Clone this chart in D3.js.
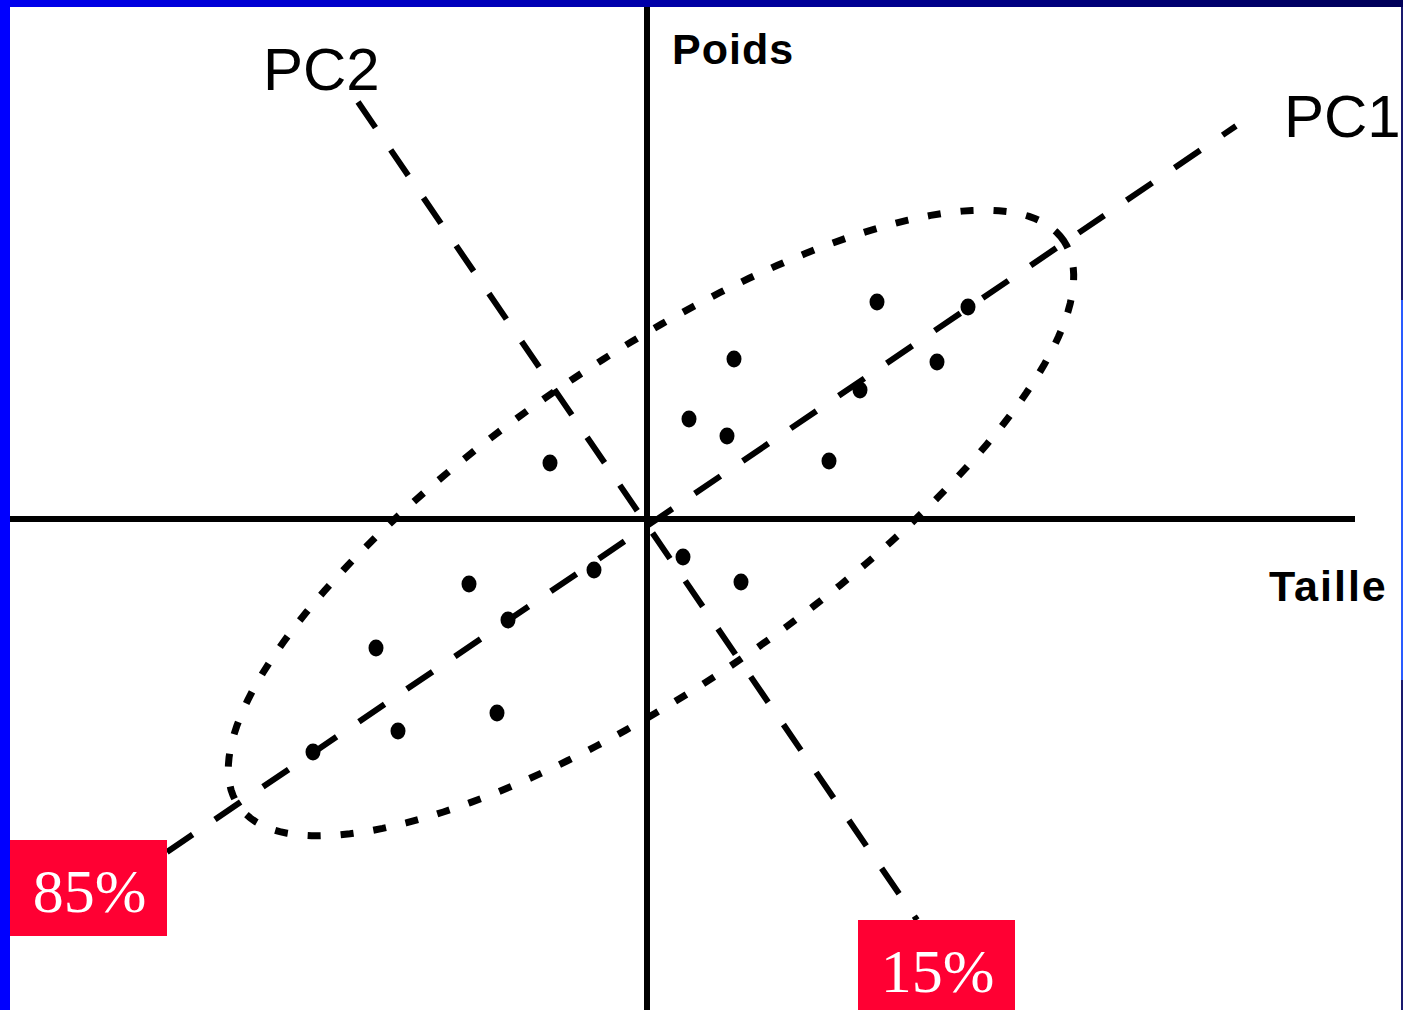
<!DOCTYPE html>
<meta charset="utf-8">
<style>
body { margin: 0; background: #fff; }
svg { display: block; }
.axis line { stroke: #000; stroke-width: 6px; }
.pc { fill: none; stroke: #000; stroke-width: 6px; stroke-dasharray: 31 27; }
.ellipse { fill: none; stroke: #000; stroke-width: 7px; stroke-dasharray: 13 20; }
.var-label { font-family: "Liberation Serif", "Times New Roman", serif; fill: #fff; font-size: 62px; text-anchor: middle; }
.pc-label { font-family: "Liberation Sans", Arial, sans-serif; font-size: 60px; fill: #000; }
.ax-label { font-family: "Liberation Sans", Arial, sans-serif; font-weight: bold; font-size: 43px; fill: #000; letter-spacing: 1px; }
</style>
<svg width="1403" height="1010"></svg>
<script src="https://d3js.org/d3.v7.min.js"></script>
<script>

// observations (Taille, Poids), centred
var pointsX = [2.30, 3.21, 0.87, 2.90, 2.13, 0.42, 0.80, 1.82, -0.97, 0.36, 0.94, -0.53, -1.78, -1.39, -2.71, -1.50, -2.49, -3.34];
var pointsY = [2.17, 2.12, 1.60, 1.57, 1.29, 1.00, 0.83, 0.58, 0.56, -0.38, -0.63, -0.51, -0.65, -1.01, -1.29, -1.94, -2.12, -2.33];

var axisNames = ["Taille", "Poids"];
var pcNames = ["PC1", "PC2"];
var pcVariance = ["85%", "15%"];

// principal axis segments [x1, y1, x2, y2]
var pc1Seg = [-4.80, -3.33, 5.89, 3.93];
var pc2Seg = [-2.89, 4.17, 2.70, -4.01];

// confidence ellipse: centre x, centre y, semi-major, semi-minor, angle (deg)
var ellipseParams = [0.04, -0.04, 5.0, 1.63, 34.4];

var svg = d3.select("svg");

var x = d3.scaleLinear().domain([-6.37, 7.08]).range([10, 1355]);
var y = d3.scaleLinear().domain([5.12, -4.91]).range([7, 1010]);

// frame
var grad = svg.append("defs").append("linearGradient").attr("id", "topbar");
grad.append("stop").attr("offset", "0").attr("stop-color", "#0000ee");
grad.append("stop").attr("offset", "1").attr("stop-color", "#000058");
svg.append("rect").attr("x", 0).attr("y", 0).attr("width", 1403).attr("height", 7).attr("fill", "url(#topbar)");
svg.append("rect").attr("x", 0).attr("y", 0).attr("width", 10).attr("height", 1010).attr("fill", "#0000ff");
svg.append("rect").attr("x", 1401).attr("y", 7).attr("width", 2).attr("height", 1003).attr("fill", "#1a1a6e");
svg.append("rect").attr("x", 1401).attr("y", 300).attr("width", 2).attr("height", 380).attr("fill", "#2a5cff");

// axes
var g = svg.append("g").attr("class", "axis");
g.append("line").attr("x1", x(-6.37)).attr("x2", x(7.08)).attr("y1", y(0)).attr("y2", y(0));
g.append("line").attr("x1", x(0)).attr("x2", x(0)).attr("y1", y(5.12)).attr("y2", y(-4.91));

// ellipse
var e = ellipseParams, th = e[4] * Math.PI / 180;
var ePts = d3.range(0, 360, 2).map(function(t) {
  t = t * Math.PI / 180;
  return [e[0] + e[2] * Math.cos(th) * Math.cos(t) - e[3] * Math.sin(th) * Math.sin(t),
          e[1] + e[2] * Math.sin(th) * Math.cos(t) + e[3] * Math.cos(th) * Math.sin(t)];
});
var line = d3.line().x(function(d) { return x(d[0]); }).y(function(d) { return y(d[1]); });
svg.append("path").attr("class", "ellipse").attr("d", line.curve(d3.curveLinearClosed)(ePts));

// principal components
[pc1Seg, pc2Seg].forEach(function(s) {
  svg.append("line").attr("class", "pc")
    .attr("x1", x(s[0])).attr("y1", y(s[1]))
    .attr("x2", x(s[2])).attr("y2", y(s[3]));
});

// points
svg.selectAll(".pt").data(pointsX).enter().append("ellipse")
  .attr("class", "pt")
  .attr("cx", function(d) { return x(d); })
  .attr("cy", function(d, i) { return y(pointsY[i]); })
  .attr("rx", 7.5).attr("ry", 8.5)
  .attr("fill", "#000");

// labels
svg.append("text").attr("class", "pc-label").attr("x", 263).attr("y", 90).text(pcNames[1]);
svg.append("text").attr("class", "pc-label").attr("x", 1284).attr("y", 137).text(pcNames[0]);
svg.append("text").attr("class", "ax-label").attr("x", x(0) + 25).attr("y", 64).text(axisNames[1]);
svg.append("text").attr("class", "ax-label").attr("x", 1269).attr("y", 601).style("letter-spacing", "2px").text(axisNames[0]);

// variance boxes
var boxes = [[10, 840, 157, 96, pcVariance[0]], [858, 920, 157, 90, pcVariance[1]]];
boxes.forEach(function(b) {
  svg.append("rect").attr("x", b[0]).attr("y", b[1]).attr("width", b[2]).attr("height", b[3]).attr("fill", "#ff0033");
  svg.append("text").attr("class", "var-label").attr("x", b[0] + b[2] / 2 + 1).attr("y", b[1] + 72).text(b[4]);
});
</script>
